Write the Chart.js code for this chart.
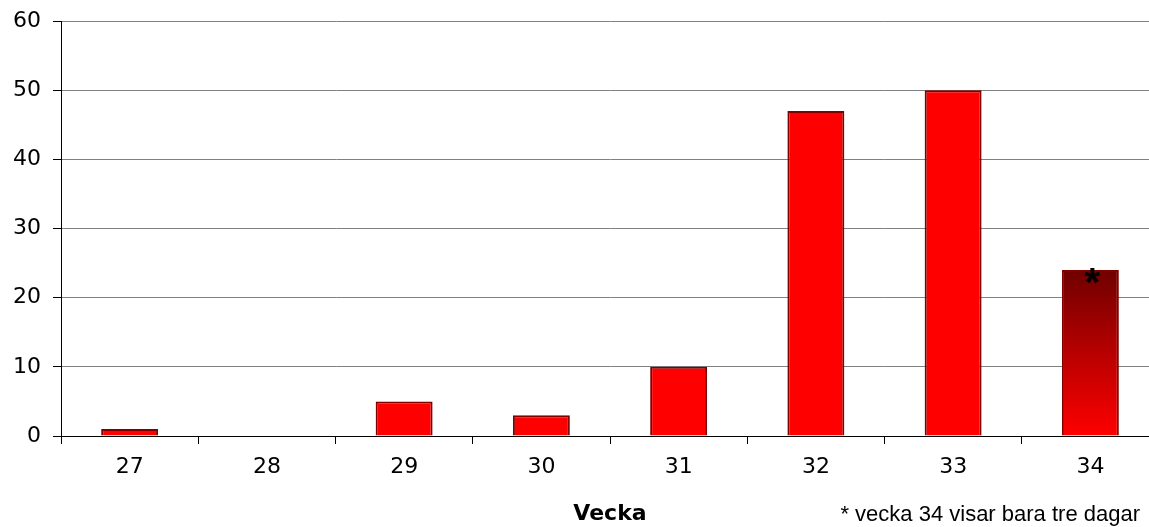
<!DOCTYPE html>
<html>
<head>
<meta charset="utf-8">
<script src="https://cdn.jsdelivr.net/npm/chart.js@4/dist/chart.umd.min.js"></script>
<style>
  html, body { margin: 0; padding: 0; background: #fff; overflow: hidden; }
  /* plot area runs ~10px past the right edge of the picture, as in the original */
  #wrap { width: 1159px; height: 527px; }
</style>
</head>
<body>
<div id="wrap"><canvas id="chart"></canvas></div>
<script>
// week numbers and counts
const weeks = ["27", "28", "29", "30", "31", "32", "33", "34"];
const counts = [1, 0, 5, 3, 10, 47, 50, 24];
const yTicks = [0, 10, 20, 30, 40, 50, 60];
const partialWeek = "34";
const footnote = "* vecka 34 visar bara tre dagar";

const axisFont = { family: "'DejaVu Sans', Verdana, sans-serif", size: 22 };
const visibleWidth = 1149;

// last week is only partial -> gradient fill plus a star
function barFill(ctx) {
  const chart = ctx.chart;
  if (weeks[ctx.dataIndex] !== partialWeek || !chart.chartArea) return "#ff0000";
  const y = chart.scales.y;
  const g = chart.ctx.createLinearGradient(0, y.getPixelForValue(counts[ctx.dataIndex]), 0, y.getPixelForValue(0));
  g.addColorStop(0, "#700000");
  g.addColorStop(1, "#ff0000");
  return g;
}

const notes = {
  id: "notes",
  afterDatasetsDraw(chart) {
    const c = chart.ctx;
    const i = weeks.indexOf(partialWeek);
    const x = chart.scales.x.getPixelForValue(i);
    const top = chart.scales.y.getPixelForValue(counts[i]);
    c.save();
    c.fillStyle = "#000";
    c.textAlign = "center";
    c.textBaseline = "alphabetic";
    c.font = "bold 40px 'Liberation Sans', Arial, sans-serif";
    c.fillText("*", x + 2, top + 26);
    c.restore();
  },
  afterDraw(chart) {
    const c = chart.ctx;
    c.save();
    c.fillStyle = "#000";
    c.textAlign = "right";
    c.textBaseline = "alphabetic";
    c.font = "22px 'Liberation Sans', Arial, sans-serif";
    c.fillText(footnote, visibleWidth - 9, chart.height - 6);
    c.restore();
  }
};

new Chart(document.getElementById("chart"), {
  type: "bar",
  data: {
    labels: weeks,
    datasets: [{
      data: counts,
      backgroundColor: barFill,
      borderColor: "#800000",
      borderWidth: 2,
      categoryPercentage: 1,
      barPercentage: 0.415
    }]
  },
  options: {
    responsive: true,
    maintainAspectRatio: false,
    animation: false,
    layout: { padding: { top: 21, right: 0, left: 0, bottom: 0 } },
    plugins: { legend: { display: false }, tooltip: { enabled: false } },
    scales: {
      x: {
        grid: {
          offset: true,
          drawOnChartArea: false,
          tickLength: 8,
          tickColor: "#000"
        },
        border: { color: "#000", width: 1 },
        ticks: { color: "#000", font: axisFont, padding: 10, maxRotation: 0 },
        title: {
          display: true,
          text: "Vecka",
          color: "#000",
          font: { family: axisFont.family, size: 22, weight: "bold" },
          padding: { top: 0, bottom: 0 }
        },
        afterFit(s) { s.height = 91; s.paddingLeft = 0; s.paddingRight = 0; }
      },
      y: {
        min: 0,
        max: 60,
        afterBuildTicks(s) { s.ticks = yTicks.map(v => ({ value: v })); },
        grid: {
          color: ctx => ctx.tick && ctx.tick.value === 0 ? "#000" : "#808080",
          tickColor: "#000",
          tickLength: 8
        },
        border: { color: "#000", width: 1 },
        ticks: { color: "#000", font: axisFont, padding: 12 },
        afterFit(s) { s.width = 61; s.paddingTop = 0; s.paddingBottom = 0; }
      }
    }
  },
  plugins: [notes]
});
</script>
</body>
</html>
